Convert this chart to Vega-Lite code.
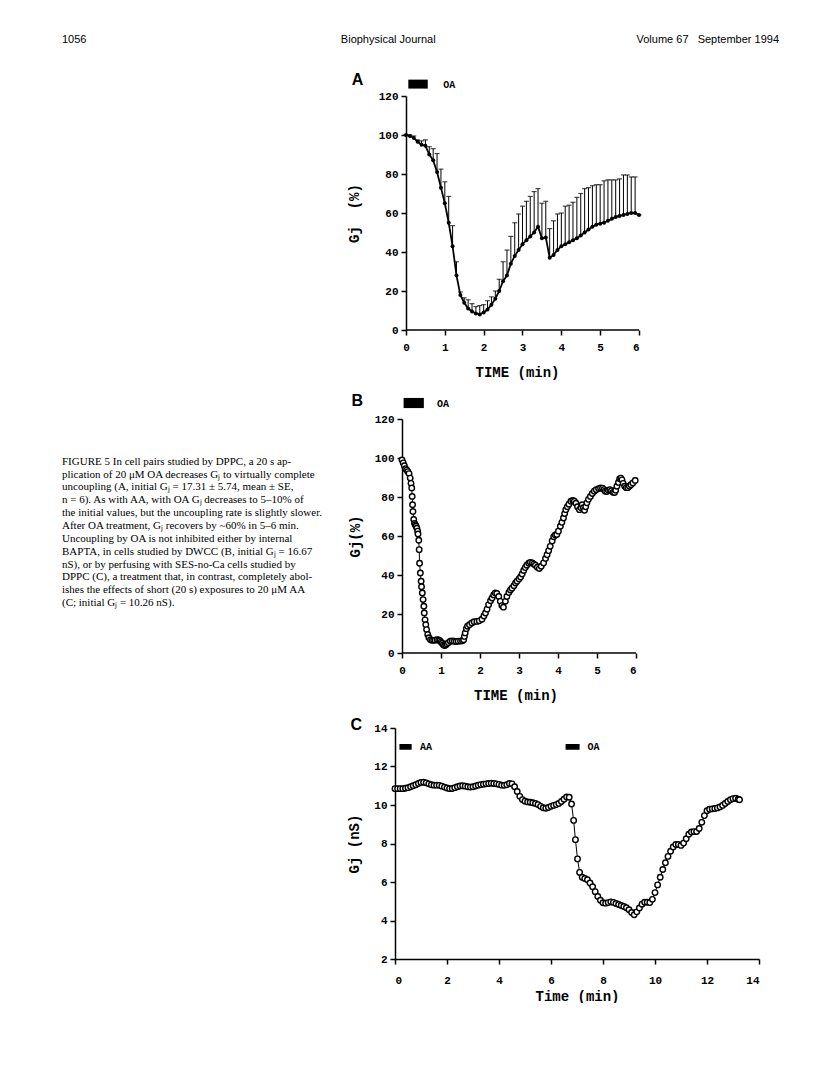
{
  "$schema": "https://vega.github.io/schema/vega-lite/v6.json",
  "background": "white",
  "padding": {"left": 62, "top": 34, "right": 0, "bottom": 0},
  "config": {
    "view": {"stroke": null},
    "axis": {
      "domainColor": "black", "domainWidth": 1.5, "tickColor": "black", "tickWidth": 1.5, "tickSize": 5,
      "labelFont": "Liberation Mono", "labelFontWeight": "bold", "labelFontSize": 11, "labelColor": "black",
      "titleFont": "Liberation Mono", "titleFontWeight": "bold", "titleFontSize": 14, "titleColor": "black",
      "grid": false, "labelPadding": 3
    }
  },
  "datasets": {
    "a": [
      {"t":0.0,"v":100,"v2":100},{"t":0.1,"v":99.5,"v2":100},{"t":0.2,"v":98.5,"v2":99.5},{"t":0.3,"v":96.5,"v2":97.5},
      {"t":0.4,"v":95,"v2":97},{"t":0.5,"v":94.5,"v2":97.5},{"t":0.6,"v":90,"v2":94},{"t":0.7,"v":87,"v2":93},
      {"t":0.8,"v":81,"v2":90.5},{"t":0.9,"v":73,"v2":82.5},{"t":1.0,"v":65,"v2":76},{"t":1.1,"v":55,"v2":68.5},
      {"t":1.2,"v":43,"v2":53.5},{"t":1.3,"v":28,"v2":35},{"t":1.4,"v":18,"v2":19.5},{"t":1.5,"v":14,"v2":16.5},
      {"t":1.6,"v":11,"v2":15.5},{"t":1.7,"v":9.5,"v2":13.5},{"t":1.8,"v":8.5,"v2":12},{"t":1.9,"v":8,"v2":12.5},
      {"t":2.0,"v":9,"v2":13},{"t":2.1,"v":10.5,"v2":15},{"t":2.2,"v":13,"v2":17},{"t":2.3,"v":16,"v2":20},
      {"t":2.4,"v":20,"v2":26},{"t":2.5,"v":25,"v2":35},{"t":2.6,"v":28,"v2":41},{"t":2.7,"v":34,"v2":48},
      {"t":2.8,"v":38,"v2":55},{"t":2.9,"v":41,"v2":59.5},{"t":3.0,"v":44,"v2":63.5},{"t":3.1,"v":46,"v2":66},
      {"t":3.2,"v":48,"v2":68.5},{"t":3.3,"v":50,"v2":71},{"t":3.4,"v":53,"v2":72.5},{"t":3.5,"v":47,"v2":65},
      {"t":3.6,"v":47.5,"v2":66},{"t":3.7,"v":37,"v2":52},{"t":3.8,"v":38.5,"v2":56},{"t":3.9,"v":41,"v2":59.5},
      {"t":4.0,"v":43,"v2":60},{"t":4.1,"v":44,"v2":63.5},{"t":4.2,"v":45,"v2":64},{"t":4.3,"v":46,"v2":65.5},
      {"t":4.4,"v":47,"v2":68},{"t":4.5,"v":48.5,"v2":70},{"t":4.6,"v":50,"v2":72.5},{"t":4.7,"v":51.5,"v2":73},
      {"t":4.8,"v":53,"v2":74},{"t":4.9,"v":54,"v2":74.5},{"t":5.0,"v":54.5,"v2":74.5},{"t":5.1,"v":55,"v2":76.5},
      {"t":5.2,"v":56,"v2":77},{"t":5.3,"v":57,"v2":77},{"t":5.4,"v":58,"v2":77},{"t":5.5,"v":58.5,"v2":77.5},
      {"t":5.6,"v":59,"v2":79.5},{"t":5.7,"v":59.5,"v2":79.5},{"t":5.8,"v":60,"v2":78.5},{"t":5.9,"v":60,"v2":78.5},
      {"t":6.0,"v":59,"v2":59}
    ],
    "b": [
      {"t":0.0,"v":99},{"t":0.03,"v":97.5},{"t":0.06,"v":96},{"t":0.09,"v":94.5},{"t":0.12,"v":93.8},{"t":0.15,"v":93},
      {"t":0.18,"v":92},{"t":0.21,"v":89.7},{"t":0.23,"v":87},{"t":0.25,"v":84.6},{"t":0.26,"v":80.3},{"t":0.27,"v":76},
      {"t":0.28,"v":72.6},{"t":0.30,"v":68.5},{"t":0.32,"v":66.5},{"t":0.34,"v":65.8},{"t":0.36,"v":65},{"t":0.38,"v":64},
      {"t":0.40,"v":62.5},{"t":0.41,"v":61},{"t":0.43,"v":57.8},{"t":0.44,"v":53},{"t":0.45,"v":46},{"t":0.47,"v":41},
      {"t":0.49,"v":36.8},{"t":0.50,"v":34},{"t":0.52,"v":30.8},{"t":0.54,"v":27.4},{"t":0.56,"v":24},{"t":0.57,"v":20.5},
      {"t":0.59,"v":17},{"t":0.61,"v":14.5},{"t":0.63,"v":12},{"t":0.66,"v":9.5},{"t":0.69,"v":7.8},{"t":0.73,"v":6.8},
      {"t":0.77,"v":6.5},{"t":0.81,"v":6.5},{"t":0.85,"v":6.6},{"t":0.90,"v":6.8},{"t":0.94,"v":6.7},{"t":0.97,"v":6.3},
      {"t":1.00,"v":5.6},{"t":1.03,"v":5},{"t":1.06,"v":4.2},{"t":1.09,"v":3.8},{"t":1.12,"v":4.1},{"t":1.15,"v":4.6},
      {"t":1.19,"v":5.3},{"t":1.24,"v":6},{"t":1.29,"v":6.2},{"t":1.34,"v":6},{"t":1.39,"v":5.9},{"t":1.44,"v":6},
      {"t":1.50,"v":6.1},{"t":1.55,"v":6.3},{"t":1.58,"v":6.8},{"t":1.60,"v":8.5},{"t":1.62,"v":10.3},{"t":1.65,"v":12.5},
      {"t":1.68,"v":13.7},{"t":1.73,"v":14.5},{"t":1.79,"v":15.4},{"t":1.85,"v":16},{"t":1.92,"v":16.2},{"t":1.98,"v":16.5},
      {"t":2.05,"v":17.3},{"t":2.10,"v":19},{"t":2.14,"v":20.5},{"t":2.18,"v":22.5},{"t":2.22,"v":24.8},{"t":2.27,"v":26.8},
      {"t":2.31,"v":28.2},{"t":2.35,"v":29.8},{"t":2.39,"v":30.8},{"t":2.43,"v":30.5},{"t":2.48,"v":29},{"t":2.52,"v":26.5},
      {"t":2.56,"v":24.3},{"t":2.60,"v":23.5},{"t":2.65,"v":26.5},{"t":2.69,"v":29},{"t":2.74,"v":31},{"t":2.78,"v":32.3},
      {"t":2.82,"v":33.2},{"t":2.87,"v":34.5},{"t":2.91,"v":35.9},{"t":2.95,"v":36.8},{"t":3.00,"v":38},{"t":3.04,"v":39},
      {"t":3.08,"v":40.5},{"t":3.12,"v":42.3},{"t":3.16,"v":43.8},{"t":3.20,"v":45},{"t":3.25,"v":46},{"t":3.29,"v":46.5},
      {"t":3.34,"v":46.2},{"t":3.38,"v":45.6},{"t":3.42,"v":45},{"t":3.47,"v":44},{"t":3.52,"v":43.3},{"t":3.57,"v":44.5},
      {"t":3.63,"v":46.2},{"t":3.68,"v":48.5},{"t":3.72,"v":50.4},{"t":3.76,"v":52.5},{"t":3.80,"v":54.7},{"t":3.85,"v":57.5},
      {"t":3.89,"v":59.6},{"t":3.93,"v":60.5},{"t":3.97,"v":60.8},{"t":4.01,"v":62.5},{"t":4.06,"v":65},{"t":4.10,"v":67},
      {"t":4.14,"v":69.2},{"t":4.17,"v":71.5},{"t":4.20,"v":73.5},{"t":4.24,"v":75},{"t":4.28,"v":76.3},{"t":4.33,"v":77.8},
      {"t":4.38,"v":78.2},{"t":4.42,"v":77.8},{"t":4.46,"v":76.8},{"t":4.50,"v":75},{"t":4.55,"v":73.5},{"t":4.59,"v":74.5},
      {"t":4.62,"v":76},{"t":4.65,"v":74.5},{"t":4.68,"v":73.2},{"t":4.71,"v":75},{"t":4.74,"v":77},{"t":4.78,"v":78.8},
      {"t":4.83,"v":80.3},{"t":4.88,"v":81.8},{"t":4.93,"v":83},{"t":4.98,"v":83.7},{"t":5.04,"v":84.3},{"t":5.09,"v":84.6},
      {"t":5.14,"v":84.5},{"t":5.18,"v":83.8},{"t":5.21,"v":83},{"t":5.25,"v":82.8},{"t":5.29,"v":83.4},{"t":5.33,"v":83.8},
      {"t":5.37,"v":83.2},{"t":5.41,"v":82.4},{"t":5.45,"v":82.3},{"t":5.48,"v":83.5},{"t":5.51,"v":85.5},{"t":5.55,"v":87.5},
      {"t":5.58,"v":89.3},{"t":5.61,"v":89.7},{"t":5.64,"v":88.8},{"t":5.67,"v":87},{"t":5.71,"v":85.5},{"t":5.75,"v":84.8},
      {"t":5.79,"v":84.8},{"t":5.83,"v":85.5},{"t":5.87,"v":86.3},{"t":5.92,"v":87.2},{"t":5.98,"v":88.5}
    ],
    "c": [
      {"t":0.0,"v":10.85},{"t":0.1,"v":10.85},{"t":0.2,"v":10.85},{"t":0.3,"v":10.85},{"t":0.4,"v":10.87},{"t":0.5,"v":10.9},
      {"t":0.6,"v":10.95},{"t":0.7,"v":11.0},{"t":0.8,"v":11.05},{"t":0.9,"v":11.12},{"t":1.0,"v":11.17},{"t":1.1,"v":11.18},
      {"t":1.2,"v":11.15},{"t":1.3,"v":11.1},{"t":1.4,"v":11.05},{"t":1.5,"v":11.03},{"t":1.6,"v":11.03},{"t":1.7,"v":11.02},
      {"t":1.8,"v":10.98},{"t":1.9,"v":10.93},{"t":2.0,"v":10.88},{"t":2.1,"v":10.85},{"t":2.2,"v":10.86},{"t":2.3,"v":10.9},
      {"t":2.4,"v":10.95},{"t":2.5,"v":10.99},{"t":2.6,"v":11.0},{"t":2.7,"v":10.98},{"t":2.8,"v":10.95},{"t":2.9,"v":10.93},
      {"t":3.0,"v":10.95},{"t":3.1,"v":10.99},{"t":3.2,"v":11.03},{"t":3.3,"v":11.06},{"t":3.4,"v":11.08},{"t":3.5,"v":11.1},
      {"t":3.6,"v":11.12},{"t":3.7,"v":11.13},{"t":3.8,"v":11.12},{"t":3.9,"v":11.1},{"t":4.0,"v":11.07},{"t":4.1,"v":11.03},
      {"t":4.2,"v":11.02},{"t":4.3,"v":11.05},{"t":4.4,"v":11.12},{"t":4.5,"v":11.1},{"t":4.6,"v":10.95},{"t":4.7,"v":10.7},
      {"t":4.8,"v":10.45},{"t":4.9,"v":10.28},{"t":5.0,"v":10.2},{"t":5.1,"v":10.16},{"t":5.2,"v":10.14},{"t":5.3,"v":10.12},
      {"t":5.4,"v":10.08},{"t":5.5,"v":10.02},{"t":5.6,"v":9.93},{"t":5.7,"v":9.86},{"t":5.8,"v":9.83},{"t":5.9,"v":9.87},
      {"t":6.0,"v":9.93},{"t":6.1,"v":9.98},{"t":6.2,"v":10.02},{"t":6.3,"v":10.08},{"t":6.4,"v":10.18},{"t":6.5,"v":10.3},
      {"t":6.6,"v":10.42},{"t":6.7,"v":10.4},{"t":6.79,"v":10.05},{"t":6.87,"v":9.2},{"t":6.94,"v":8.2},{"t":7.02,"v":7.2},
      {"t":7.1,"v":6.5},{"t":7.2,"v":6.25},{"t":7.3,"v":6.18},{"t":7.4,"v":6.12},{"t":7.5,"v":5.95},{"t":7.6,"v":5.75},
      {"t":7.7,"v":5.5},{"t":7.8,"v":5.25},{"t":7.9,"v":5.05},{"t":8.0,"v":4.92},{"t":8.1,"v":4.9},{"t":8.2,"v":4.93},
      {"t":8.3,"v":4.97},{"t":8.4,"v":4.94},{"t":8.5,"v":4.88},{"t":8.6,"v":4.83},{"t":8.7,"v":4.78},{"t":8.8,"v":4.73},
      {"t":8.9,"v":4.66},{"t":9.0,"v":4.56},{"t":9.1,"v":4.42},{"t":9.2,"v":4.3},{"t":9.3,"v":4.45},{"t":9.4,"v":4.65},
      {"t":9.5,"v":4.85},{"t":9.6,"v":4.95},{"t":9.7,"v":4.95},{"t":9.8,"v":4.93},{"t":9.9,"v":5.1},{"t":10.0,"v":5.45},
      {"t":10.1,"v":5.85},{"t":10.2,"v":6.25},{"t":10.3,"v":6.65},{"t":10.4,"v":7.0},{"t":10.5,"v":7.33},{"t":10.6,"v":7.6},
      {"t":10.7,"v":7.82},{"t":10.8,"v":7.95},{"t":10.9,"v":7.95},{"t":11.0,"v":7.9},{"t":11.1,"v":8.02},{"t":11.2,"v":8.25},
      {"t":11.3,"v":8.48},{"t":11.4,"v":8.6},{"t":11.5,"v":8.62},{"t":11.6,"v":8.62},{"t":11.7,"v":8.78},{"t":11.8,"v":9.1},
      {"t":11.9,"v":9.45},{"t":12.0,"v":9.7},{"t":12.1,"v":9.78},{"t":12.2,"v":9.8},{"t":12.3,"v":9.82},{"t":12.4,"v":9.85},
      {"t":12.5,"v":9.9},{"t":12.6,"v":9.98},{"t":12.7,"v":10.08},{"t":12.8,"v":10.18},{"t":12.9,"v":10.27},{"t":13.0,"v":10.33},
      {"t":13.1,"v":10.35},{"t":13.2,"v":10.3},{"t":13.25,"v":10.27}
    ],
    "caption": [
      {"line":1,"text":"FIGURE 5   In cell pairs studied by DPPC, a 20 s ap-"},
      {"line":2,"text":"plication of 20 μM OA decreases Gⱼ to virtually complete"},
      {"line":3,"text":"uncoupling (A, initial Gⱼ = 17.31 ± 5.74, mean ± SE,"},
      {"line":4,"text":"n = 6). As with AA, with OA Gⱼ decreases to 5–10% of"},
      {"line":5,"text":"the initial values, but the uncoupling rate is slightly slower."},
      {"line":6,"text":"After OA treatment, Gⱼ recovers by ~60% in 5–6 min."},
      {"line":7,"text":"Uncoupling by OA is not inhibited either by internal"},
      {"line":8,"text":"BAPTA, in cells studied by DWCC (B, initial Gⱼ = 16.67"},
      {"line":9,"text":"nS), or by perfusing with SES-no-Ca cells studied by"},
      {"line":10,"text":"DPPC (C), a treatment that, in contrast, completely abol-"},
      {"line":11,"text":"ishes the effects of short (20 s) exposures to 20 μM AA"},
      {"line":12,"text":"(C; initial Gⱼ = 10.26 nS)."}
    ],
    "header": [
      {"pos":0,"label":"1056"},
      {"pos":0.455,"label":"Biophysical Journal"},
      {"pos":1,"label":"Volume 67\u00a0\u00a0 September 1994"}
    ]
  },
  "spacing": 27,
  "vconcat": [
    {
      "width": 717, "height": 10,
      "data": {"name": "header"},
      "layer": [
        {"transform": [{"filter": "datum.pos == 0"}],
         "mark": {"type": "text", "align": "left", "baseline": "middle", "font": "Liberation Sans", "fontSize": 11, "color": "black"},
         "encoding": {"x": {"field": "pos", "type": "quantitative", "scale": {"domain": [0, 1]}, "axis": null}, "text": {"field": "label"}}},
        {"transform": [{"filter": "datum.pos > 0 && datum.pos < 1"}],
         "mark": {"type": "text", "align": "center", "baseline": "middle", "font": "Liberation Sans", "fontSize": 11, "color": "black"},
         "encoding": {"x": {"field": "pos", "type": "quantitative", "scale": {"domain": [0, 1]}, "axis": null}, "text": {"field": "label"}}},
        {"transform": [{"filter": "datum.pos == 1"}],
         "mark": {"type": "text", "align": "right", "baseline": "middle", "font": "Liberation Sans", "fontSize": 11, "color": "black"},
         "encoding": {"x": {"field": "pos", "type": "quantitative", "scale": {"domain": [0, 1]}, "axis": null}, "text": {"field": "label"}}}
      ]
    },
    {
      "spacing": 22,
      "hconcat": [
        {
          "width": 263, "height": 540,
          "data": {"name": "caption"},
          "mark": {"type": "text", "align": "left", "baseline": "middle", "font": "Liberation Serif", "fontSize": 11, "color": "black"},
          "encoding": {
            "x": {"datum": 0, "type": "quantitative", "scale": {"domain": [0, 1]}, "axis": null},
            "y": {"field": "line", "type": "quantitative", "scale": {"domain": [-27.46, 14.56], "reverse": true, "nice": false, "zero": false}, "axis": null},
            "text": {"field": "text"}
          }
        },
        {
          "spacing": 14,
          "vconcat": [
            {
              "width": 244, "height": 234,
              "layer": [
                {"data": {"values": [{"t": 0, "t2": 6, "v": 0}]}, "mark": {"type": "rule", "color": "black", "strokeWidth": 1.5},
                 "encoding": {
                   "x": {"field": "t", "type": "quantitative", "scale": {"domain": [-0.283, 6], "nice": false, "zero": false}, "axis": {"values": [0,1,2,3,4,5,6], "domain": false, "title": "TIME (min)", "labelPadding": 6, "titlePadding": 13}},
                   "x2": {"field": "t2"},
                   "y": {"field": "v", "type": "quantitative", "scale": {"domain": [0, 120], "nice": false}, "axis": {"values": [0,20,40,60,80,100,120], "title": "Gj\u00a0\u00a0(%)", "titlePadding": 17, "offset": -11}}}},
                {"data": {"name": "a"}, "mark": {"type": "rule", "color": "black", "strokeWidth": 1},
                 "encoding": {
                   "x": {"field": "t", "type": "quantitative", "scale": {"domain": [-0.283, 6], "nice": false, "zero": false}, "axis": {"values": [0,1,2,3,4,5,6], "domain": false, "title": "TIME (min)", "labelPadding": 6, "titlePadding": 13}},
                   "y": {"field": "v", "type": "quantitative", "scale": {"domain": [0, 120], "nice": false}, "axis": {"values": [0,20,40,60,80,100,120], "title": "Gj\u00a0\u00a0(%)", "titlePadding": 17, "offset": -11}},
                   "y2": {"field": "v2"}}},
                {"data": {"name": "a"}, "mark": {"type": "tick", "orient": "horizontal", "color": "black", "size": 5, "thickness": 1.2},
                 "encoding": {
                   "x": {"field": "t", "type": "quantitative", "scale": {"domain": [-0.283, 6], "nice": false, "zero": false}, "axis": {"values": [0,1,2,3,4,5,6], "domain": false, "title": "TIME (min)", "labelPadding": 6, "titlePadding": 13}},
                   "y": {"field": "v2", "type": "quantitative", "scale": {"domain": [0, 120], "nice": false}, "axis": {"values": [0,20,40,60,80,100,120], "title": "Gj\u00a0\u00a0(%)", "titlePadding": 17, "offset": -11}}}},
                {"data": {"name": "a"}, "mark": {"type": "line", "color": "black", "strokeWidth": 1.8},
                 "encoding": {
                   "x": {"field": "t", "type": "quantitative", "scale": {"domain": [-0.283, 6], "nice": false, "zero": false}, "axis": {"values": [0,1,2,3,4,5,6], "domain": false, "title": "TIME (min)", "labelPadding": 6, "titlePadding": 13}},
                   "y": {"field": "v", "type": "quantitative", "scale": {"domain": [0, 120], "nice": false}, "axis": {"values": [0,20,40,60,80,100,120], "title": "Gj\u00a0\u00a0(%)", "titlePadding": 17, "offset": -11}}}},
                {"data": {"name": "a"}, "mark": {"type": "point", "filled": true, "color": "black", "size": 16, "opacity": 1},
                 "encoding": {
                   "x": {"field": "t", "type": "quantitative", "scale": {"domain": [-0.283, 6], "nice": false, "zero": false}, "axis": {"values": [0,1,2,3,4,5,6], "domain": false, "title": "TIME (min)", "labelPadding": 6, "titlePadding": 13}},
                   "y": {"field": "v", "type": "quantitative", "scale": {"domain": [0, 120], "nice": false}, "axis": {"values": [0,20,40,60,80,100,120], "title": "Gj\u00a0\u00a0(%)", "titlePadding": 17, "offset": -11}}}},
                {"data": {"values": [{"t": 0.06, "t2": 0.56, "v": 123.8, "v2": 128.4}]}, "mark": {"type": "rect", "color": "black"},
                 "encoding": {
                   "x": {"field": "t", "type": "quantitative", "scale": {"domain": [-0.283, 6], "nice": false, "zero": false}, "axis": {"values": [0,1,2,3,4,5,6], "domain": false, "title": "TIME (min)", "labelPadding": 6, "titlePadding": 13}},
                   "x2": {"field": "t2"},
                   "y": {"field": "v", "type": "quantitative", "scale": {"domain": [0, 120], "nice": false}, "axis": {"values": [0,20,40,60,80,100,120], "title": "Gj\u00a0\u00a0(%)", "titlePadding": 17, "offset": -11}},
                   "y2": {"field": "v2"}}},
                {"data": {"values": [{"t": 0.96, "v": 125.6, "label": "OA"}]}, "mark": {"type": "text", "align": "left", "baseline": "middle", "font": "Liberation Mono", "fontWeight": "bold", "fontSize": 10, "color": "black"},
                 "encoding": {
                   "x": {"field": "t", "type": "quantitative", "scale": {"domain": [-0.283, 6], "nice": false, "zero": false}, "axis": {"values": [0,1,2,3,4,5,6], "domain": false, "title": "TIME (min)", "labelPadding": 6, "titlePadding": 13}},
                   "y": {"field": "v", "type": "quantitative", "scale": {"domain": [0, 120], "nice": false}, "axis": {"values": [0,20,40,60,80,100,120], "title": "Gj\u00a0\u00a0(%)", "titlePadding": 17, "offset": -11}},
                   "text": {"field": "label"}}},
                {"data": {"values": [{"t": -1.25, "v": 125.4, "label": "A"}]}, "mark": {"type": "text", "align": "center", "baseline": "alphabetic", "font": "Liberation Sans", "fontWeight": "bold", "fontSize": 16, "color": "black"},
                 "encoding": {
                   "x": {"field": "t", "type": "quantitative", "scale": {"domain": [-0.283, 6], "nice": false, "zero": false}, "axis": {"values": [0,1,2,3,4,5,6], "domain": false, "title": "TIME (min)", "labelPadding": 6, "titlePadding": 13}},
                   "y": {"field": "v", "type": "quantitative", "scale": {"domain": [0, 120], "nice": false}, "axis": {"values": [0,20,40,60,80,100,120], "title": "Gj\u00a0\u00a0(%)", "titlePadding": 17, "offset": -11}},
                   "text": {"field": "label"}}}
              ]
            },
            {
              "width": 241, "height": 234,
              "layer": [
                {"data": {"values": [{"t": 0, "t2": 6, "v": 0}]}, "mark": {"type": "rule", "color": "black", "strokeWidth": 1.5},
                 "encoding": {
                   "x": {"field": "t", "type": "quantitative", "scale": {"domain": [-0.18, 6], "nice": false, "zero": false}, "axis": {"values": [0,1,2,3,4,5,6], "domain": false, "title": "TIME (min)", "labelPadding": 6, "titlePadding": 13}},
                   "x2": {"field": "t2"},
                   "y": {"field": "v", "type": "quantitative", "scale": {"domain": [0, 120], "nice": false}, "axis": {"values": [0,20,40,60,80,100,120], "title": "Gj(%)", "titlePadding": 12, "offset": -7}}}},
                {"data": {"name": "b"}, "mark": {"type": "line", "color": "black", "strokeWidth": 1},
                 "encoding": {
                   "x": {"field": "t", "type": "quantitative", "scale": {"domain": [-0.18, 6], "nice": false, "zero": false}, "axis": {"values": [0,1,2,3,4,5,6], "domain": false, "title": "TIME (min)", "labelPadding": 6, "titlePadding": 13}},
                   "y": {"field": "v", "type": "quantitative", "scale": {"domain": [0, 120], "nice": false}, "axis": {"values": [0,20,40,60,80,100,120], "title": "Gj(%)", "titlePadding": 12, "offset": -7}}}},
                {"data": {"name": "b"}, "mark": {"type": "point", "filled": false, "color": "black", "fill": "white", "size": 30, "strokeWidth": 1.4, "opacity": 1},
                 "encoding": {
                   "x": {"field": "t", "type": "quantitative", "scale": {"domain": [-0.18, 6], "nice": false, "zero": false}, "axis": {"values": [0,1,2,3,4,5,6], "domain": false, "title": "TIME (min)", "labelPadding": 6, "titlePadding": 13}},
                   "y": {"field": "v", "type": "quantitative", "scale": {"domain": [0, 120], "nice": false}, "axis": {"values": [0,20,40,60,80,100,120], "title": "Gj(%)", "titlePadding": 12, "offset": -7}}}},
                {"data": {"values": [{"t": 0.04, "t2": 0.56, "v": 125.6, "v2": 130.8}]}, "mark": {"type": "rect", "color": "black"},
                 "encoding": {
                   "x": {"field": "t", "type": "quantitative", "scale": {"domain": [-0.18, 6], "nice": false, "zero": false}, "axis": {"values": [0,1,2,3,4,5,6], "domain": false, "title": "TIME (min)", "labelPadding": 6, "titlePadding": 13}},
                   "x2": {"field": "t2"},
                   "y": {"field": "v", "type": "quantitative", "scale": {"domain": [0, 120], "nice": false}, "axis": {"values": [0,20,40,60,80,100,120], "title": "Gj(%)", "titlePadding": 12, "offset": -7}},
                   "y2": {"field": "v2"}}},
                {"data": {"values": [{"t": 0.9, "v": 127.8, "label": "OA"}]}, "mark": {"type": "text", "align": "left", "baseline": "middle", "font": "Liberation Mono", "fontWeight": "bold", "fontSize": 10, "color": "black"},
                 "encoding": {
                   "x": {"field": "t", "type": "quantitative", "scale": {"domain": [-0.18, 6], "nice": false, "zero": false}, "axis": {"values": [0,1,2,3,4,5,6], "domain": false, "title": "TIME (min)", "labelPadding": 6, "titlePadding": 13}},
                   "y": {"field": "v", "type": "quantitative", "scale": {"domain": [0, 120], "nice": false}, "axis": {"values": [0,20,40,60,80,100,120], "title": "Gj(%)", "titlePadding": 12, "offset": -7}},
                   "text": {"field": "label"}}},
                {"data": {"values": [{"t": -1.15, "v": 126.5, "label": "B"}]}, "mark": {"type": "text", "align": "center", "baseline": "alphabetic", "font": "Liberation Sans", "fontWeight": "bold", "fontSize": 16, "color": "black"},
                 "encoding": {
                   "x": {"field": "t", "type": "quantitative", "scale": {"domain": [-0.18, 6], "nice": false, "zero": false}, "axis": {"values": [0,1,2,3,4,5,6], "domain": false, "title": "TIME (min)", "labelPadding": 6, "titlePadding": 13}},
                   "y": {"field": "v", "type": "quantitative", "scale": {"domain": [0, 120], "nice": false}, "axis": {"values": [0,20,40,60,80,100,120], "title": "Gj(%)", "titlePadding": 12, "offset": -7}},
                   "text": {"field": "label"}}}
              ]
            },
            {
              "width": 364, "height": 231,
              "layer": [
                {"data": {"name": "c"}, "mark": {"type": "line", "color": "black", "strokeWidth": 1},
                 "encoding": {
                   "x": {"field": "t", "type": "quantitative", "scale": {"domain": [0, 14], "nice": false}, "axis": {"values": [0,2,4,6,8,10,12,14], "title": "Time (min)", "labelPadding": 10, "titlePadding": 4}},
                   "y": {"field": "v", "type": "quantitative", "scale": {"domain": [2, 14], "nice": false, "zero": false}, "axis": {"values": [2,4,6,8,10,12,14], "title": "Gj (nS)", "titlePadding": 12}}}},
                {"data": {"name": "c"}, "mark": {"type": "point", "filled": false, "color": "black", "fill": "white", "size": 30, "strokeWidth": 1.4, "opacity": 1},
                 "encoding": {
                   "x": {"field": "t", "type": "quantitative", "scale": {"domain": [0, 14], "nice": false}, "axis": {"values": [0,2,4,6,8,10,12,14], "title": "Time (min)", "labelPadding": 10, "titlePadding": 4}},
                   "y": {"field": "v", "type": "quantitative", "scale": {"domain": [2, 14], "nice": false, "zero": false}, "axis": {"values": [2,4,6,8,10,12,14], "title": "Gj (nS)", "titlePadding": 12}}}},
                {"data": {"values": [{"t": 0.17, "t2": 0.64, "v": 12.87, "v2": 13.17}, {"t": 6.56, "t2": 7.1, "v": 12.87, "v2": 13.17}]}, "mark": {"type": "rect", "color": "black"},
                 "encoding": {
                   "x": {"field": "t", "type": "quantitative", "scale": {"domain": [0, 14], "nice": false}, "axis": {"values": [0,2,4,6,8,10,12,14], "title": "Time (min)", "labelPadding": 10, "titlePadding": 4}},
                   "x2": {"field": "t2"},
                   "y": {"field": "v", "type": "quantitative", "scale": {"domain": [2, 14], "nice": false, "zero": false}, "axis": {"values": [2,4,6,8,10,12,14], "title": "Gj (nS)", "titlePadding": 12}},
                   "y2": {"field": "v2"}}},
                {"data": {"values": [{"t": 0.96, "v": 13.0, "label": "AA"}, {"t": 7.4, "v": 13.0, "label": "OA"}]}, "mark": {"type": "text", "align": "left", "baseline": "middle", "font": "Liberation Mono", "fontWeight": "bold", "fontSize": 10, "color": "black"},
                 "encoding": {
                   "x": {"field": "t", "type": "quantitative", "scale": {"domain": [0, 14], "nice": false}, "axis": {"values": [0,2,4,6,8,10,12,14], "title": "Time (min)", "labelPadding": 10, "titlePadding": 4}},
                   "y": {"field": "v", "type": "quantitative", "scale": {"domain": [2, 14], "nice": false, "zero": false}, "axis": {"values": [2,4,6,8,10,12,14], "title": "Gj (nS)", "titlePadding": 12}},
                   "text": {"field": "label"}}},
                {"data": {"values": [{"t": -1.49, "v": 13.91, "label": "C"}]}, "mark": {"type": "text", "align": "center", "baseline": "alphabetic", "font": "Liberation Sans", "fontWeight": "bold", "fontSize": 16, "color": "black"},
                 "encoding": {
                   "x": {"field": "t", "type": "quantitative", "scale": {"domain": [0, 14], "nice": false}, "axis": {"values": [0,2,4,6,8,10,12,14], "title": "Time (min)", "labelPadding": 10, "titlePadding": 4}},
                   "y": {"field": "v", "type": "quantitative", "scale": {"domain": [2, 14], "nice": false, "zero": false}, "axis": {"values": [2,4,6,8,10,12,14], "title": "Gj (nS)", "titlePadding": 12}},
                   "text": {"field": "label"}}}
              ]
            }
          ]
        }
      ]
    }
  ]
}
